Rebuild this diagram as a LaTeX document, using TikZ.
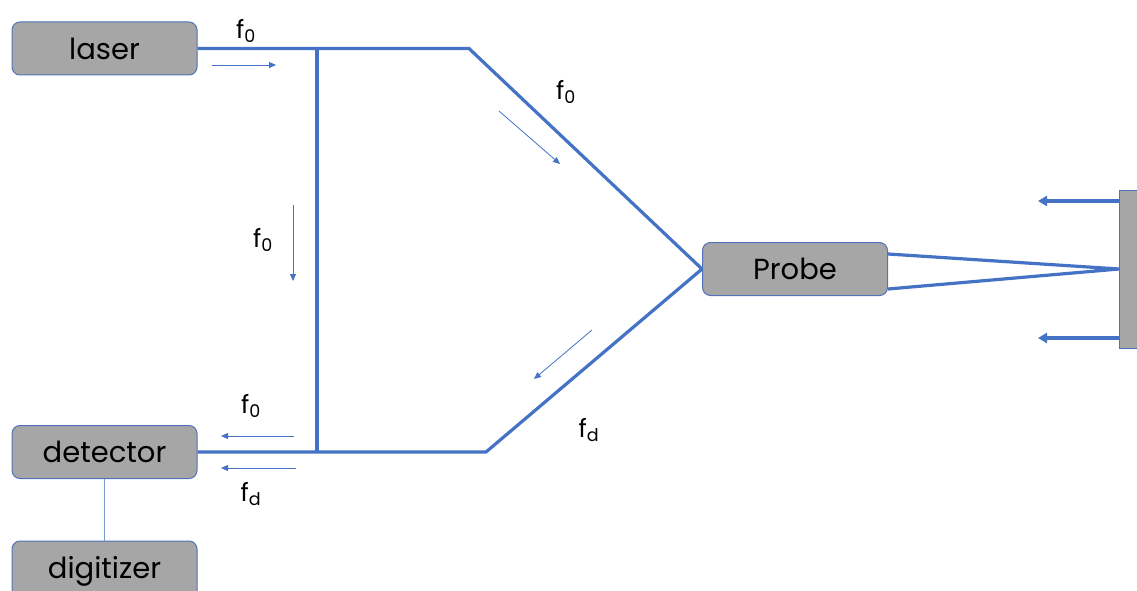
\documentclass[tikz,border=0pt]{standalone}
\usepackage{fontspec}
\setmainfont{Poppins}
\usetikzlibrary{arrows.meta}
\definecolor{lineblue}{HTML}{4472C4}
\definecolor{boxgray}{HTML}{A6A6A6}
\definecolor{boxedge}{HTML}{4F72B8}
\tikzset{
  box/.style={draw=boxedge, line width=1pt, fill=boxgray, rounded corners=8pt, minimum width=185pt, minimum height=53pt, inner sep=0pt, font=\fontsize{29}{34}\selectfont, text=black},
  beam/.style={draw=lineblue, line width=3.2pt},
  flow/.style={draw=lineblue, line width=0.8pt, -{Triangle[length=7pt,width=6pt]}},
  bigarrow/.style={draw=lineblue, line width=3.2pt, -{Triangle[length=9pt,width=10pt]}},
  lab/.style={font=\fontsize{25}{30}\selectfont, text=black, inner sep=0pt}
}
\begin{document}
\begin{tikzpicture}[x=1pt,y=-1pt]
\useasboundingbox (0,0) rectangle (1137,591);
\begin{scope}
\clip (0,0) rectangle (1137,591);
\node[box] (laser) at (104.5,48.5) {laser};
\node[box] (detector) at (104.5,452) {detector};
\node[box, minimum height=60pt] (digitizer) at (104.5,571) {digitizer};
\node[box] (probe) at (795,269) {Probe};
\node[draw=boxedge, line width=1pt, fill=boxgray, minimum width=30pt, minimum height=158pt, inner sep=0pt] (target) at (1134,269) {};
\end{scope}
% junction coordinates
\coordinate (j1) at (317,48.5);
\coordinate (b1) at (469,48.5);
\coordinate (j2) at (317,452);
\coordinate (b2) at (486,452);
\coordinate (pl) at (702,269);
\coordinate (pu) at (888,254);
\coordinate (pd) at (888,289);
\coordinate (tc) at (1119,269);
% beams
\draw[beam] (laser.east) -- (j1) -- (b1) -- (pl);
\draw[beam] (j1) -- (j2);
\draw[beam] (detector.east) -- (j2) -- (b2) -- (pl);
\draw[beam] (pu) -- (tc) -- (pd);
\draw[draw=lineblue!70, line width=0.6pt] (detector.south) -- (digitizer.north);
% reflected arrows
\coordinate (r1s) at (1119,201);
\coordinate (r1e) at (1038,201);
\coordinate (r2s) at (1119,338);
\coordinate (r2e) at (1038,338);
\draw[bigarrow] (r1s) -- (r1e);
\draw[bigarrow] (r2s) -- (r2e);
% flow arrows
\coordinate (a1s) at (212,65); \coordinate (a1e) at (276,65);
\coordinate (a2s) at (293,205); \coordinate (a2e) at (293,281);
\coordinate (a3s) at (499,111); \coordinate (a3e) at (560,164);
\coordinate (a4s) at (592,330); \coordinate (a4e) at (534,379);
\coordinate (a5s) at (294,436); \coordinate (a5e) at (221,436);
\coordinate (a6s) at (296,468); \coordinate (a6e) at (221,468);
\draw[flow] (a1s) -- (a1e);
\draw[flow] (a2s) -- (a2e);
\draw[flow] (a3s) -- (a3e);
\draw[flow] (a4s) -- (a4e);
\draw[flow] (a5s) -- (a5e);
\draw[flow] (a6s) -- (a6e);
% labels
\node[lab] (l1) at (246,31) {f\textsubscript{0}};
\node[lab] (l2) at (566,92) {f\textsubscript{0}};
\node[lab] (l3) at (263,240) {f\textsubscript{0}};
\node[lab] (l4) at (251,406) {f\textsubscript{0}};
\node[lab] (l5) at (589,430) {f\textsubscript{d}};
\node[lab] (l6) at (251,494) {f\textsubscript{d}};
\end{tikzpicture}
\end{document}
